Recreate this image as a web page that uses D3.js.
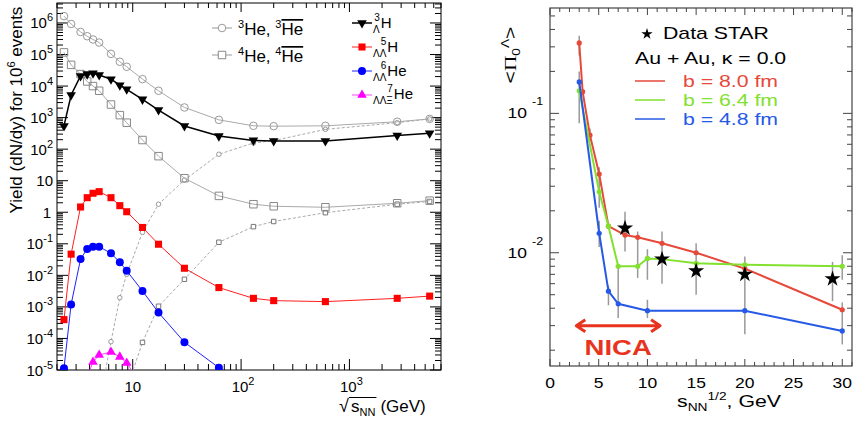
<!DOCTYPE html>
<html>
<head>
<meta charset="utf-8">
<script src="https://cdn.jsdelivr.net/npm/d3@7"></script>
<style>
body { margin: 0; background: #fff; }
svg { display: block; }
text { font-family: "Liberation Sans", Arial, sans-serif; fill: #000; }
</style>
</head>
<body>
<script>
// ---- left panel data: yields vs sqrt(s_NN) ----
var energies = [2.32, 2.7, 3.3, 3.8, 4.3, 4.9, 6.3, 7.6, 8.8, 12.3, 17.3, 30, 62.4, 130, 200, 600, 2760, 5500];
var he3 = [1.65e6, 9.3e5, 5.2e5, 3.8e5, 3.0e5, 2.4e5, 1.05e5, 5.9e4, 4.1e4, 1.66e4, 7.1e3, 2.1e3, 850, 550, 535, 550, 740, 910];
var he4 = [1.17e5, 4.7e4, 2.4e4, 1.4e4, 1.0e4, 7.1e3, 2.6e3, 1.2e3, 690, 195, 60, 12, 3.3, 1.8, 1.55, 1.44, 1.93, 2.33];
var antiHe3 = [null, null, null, null, null, 8e-7, 7.9e-5, 1.96e-3, 0.0108, 0.23, 1.8, 10.5, 69, 157, 186, 425, 690, 910];
var antiHe4 = [null, null, null, null, null, null, null, null, 2.5e-6, 7.5e-5, 1.05e-3, 7.5e-3, 0.112, 0.35, 0.51, 0.97, 1.8, 2.2];
var hyperH3 = [545, 5.2e3, 2.1e4, 2.4e4, 2.55e4, 2.25e4, 1.65e4, 1.07e4, 7.9e3, 3.8e3, 1.74e3, 545, 260, 190, 182, 182, 270, 318];
var llH5 = [3.95e-4, 0.047, 1.47, 2.9, 4.0, 4.5, 2.9, 1.62, 1.04, 0.33, 0.097, 0.0168, 4.1e-3, 1.87e-3, 1.58e-3, 1.47e-3, 1.87e-3, 2.2e-3];
var llHe6 = [1.14e-5, 1.2e-3, 0.033, 0.069, 0.081, 0.081, 0.050, 0.026, 0.014, 3.2e-3, 6.6e-4, 7.6e-5, 1.18e-5, 2.2e-6, null, null, null, null];
var llxHe7 = [null, null, null, 6e-6, 1.8e-5, 3.0e-5, 3.7e-5, 2.6e-5, 1.67e-5, 3.3e-6, null, null, null, null, null, null, null, null];

// ---- right panel data: <Pi_0^Lambda> vs sqrt(s_NN) ----
var redX = [3, 3.35, 4.1, 5.05, 6, 7.7, 9, 11.5, 15, 20, 30];
var redY = [0.32, 0.143, 0.0698, 0.0367, 0.0155, 0.0134, 0.0129, 0.0117, 0.0100, 0.0077, 0.0039];
var greenX = [3, 5.05, 6, 7, 9, 10, 11.5, 15, 20, 30];
var greenY = [0.145, 0.0274, 0.0155, 0.0080, 0.0080, 0.0091, 0.0090, 0.0084, 0.0082, 0.0080];
var blueX = [3, 5.05, 6, 7, 10, 20, 30];
var blueY = [0.168, 0.0138, 0.0053, 0.0043, 0.00384, 0.00384, 0.00275];
var starX = [7.7, 11.5, 15, 20, 29];
var starY = [0.0150, 0.0090, 0.0074, 0.0070, 0.0065];
var errX  = [3, 3, 4.1, 5.05, 5.05, 6, 7, 7.7, 9, 10, 10, 11.5, 15, 20, 29, 30, 30];
var errLo = [0.26, 0.085, 0.062, 0.021, 0.011, 0.0042, 0.0034, 0.0102, 0.0066, 0.0064, 0.0034, 0.0060, 0.0050, 0.0026, 0.0045, 0.0064, 0.0022];
var errHi = [0.36, 0.20, 0.078, 0.041, 0.017, 0.0058, 0.0080, 0.0197, 0.0142, 0.0106, 0.0046, 0.0142, 0.0117, 0.0094, 0.0086, 0.0096, 0.0044];
var nicaRange = [2.7, 11.3], nicaLevel = 0.0030;

var W = 856, H = 425;
var svg = d3.select('body').append('svg').attr('width', W).attr('height', H);

function logTicks(lo, hi) {
  var out = [];
  for (var d = Math.floor(Math.log10(lo)); d <= Math.ceil(Math.log10(hi)); d++) {
    for (var k = 1; k < 10; k++) {
      var v = k * Math.pow(10, d);
      if (v >= lo * 0.999 && v <= hi * 1.001) out.push({ v: v, major: k === 1 });
    }
  }
  return out;
}

// ================= left panel =================
var xL = d3.scaleLog().domain([2, 7000]).range([57, 441]);
var yL = d3.scaleLog().domain([1e-5, 4.3e6]).range([370, 3]);
var left = svg.append('g');

left.append('clipPath').attr('id', 'clipL').append('rect')
  .attr('x', 57).attr('y', 3).attr('width', 384).attr('height', 367);

left.append('rect').attr('x', 57).attr('y', 3).attr('width', 384).attr('height', 367)
  .attr('fill', 'none').attr('stroke', '#000').attr('stroke-width', 1);

logTicks(2, 7000).forEach(function(t) {
  var x = xL(t.v);
  left.append('line').attr('x1', x).attr('x2', x).attr('y1', 370).attr('y2', 370 - (t.major ? 11 : 6)).attr('stroke', '#000');
  left.append('line').attr('x1', x).attr('x2', x).attr('y1', 3).attr('y2', 3 + (t.major ? 9 : 5)).attr('stroke', '#000');
});
logTicks(1e-5, 4.3e6).forEach(function(t) {
  var y = yL(t.v);
  left.append('line').attr('x1', 57).attr('x2', 57 + (t.major ? 11 : 6)).attr('y1', y).attr('y2', y).attr('stroke', '#000');
  left.append('line').attr('x1', 441).attr('x2', 441 - (t.major ? 11 : 6)).attr('y1', y).attr('y2', y).attr('stroke', '#000');
});

// y tick labels
d3.range(-5, 7).forEach(function(d) {
  var t = left.append('text').attr('x', d === 0 ? 51 : 53).attr('y', yL(Math.pow(10, d)) + 5.5)
    .attr('text-anchor', 'end').style('font-size', '15px');
  if (d === 0) t.text('1');
  else if (d === 1) t.text('10');
  else {
    t.append('tspan').text('10');
    t.append('tspan').attr('dy', -7).style('font-size', '11px').text(d);
  }
});
// x tick labels
[10, 100, 1000].forEach(function(v, i) {
  var t = left.append('text').attr('x', xL(v) + (i ? 2 : 0)).attr('y', 392)
    .attr('text-anchor', 'middle').style('font-size', '15px');
  t.append('tspan').text('10');
  if (i) t.append('tspan').attr('dy', -7).style('font-size', '11px').text(i + 1);
});

// axis titles
var yt = left.append('text').attr('transform', 'translate(22,110) rotate(-90)')
  .attr('text-anchor', 'middle').style('font-size', '17px');
yt.append('tspan').text('Yield (dN/dy) for 10');
yt.append('tspan').attr('dy', -7).style('font-size', '11px').text('6');
yt.append('tspan').attr('dy', 7).text(' events');

left.append('text').attr('x', 339).attr('y', 412).style('font-size', '18px').text('\u221A');
var sNN = left.append('text').attr('x', 351).attr('y', 412).style('font-size', '17px');
sNN.append('tspan').text('s');
sNN.append('tspan').attr('dy', 4).style('font-size', '11px').text('NN');
var sb = sNN.node().getBBox();
left.append('line').attr('x1', 349).attr('x2', sb.x + sb.width + 1).attr('y1', 397.5).attr('y2', 397.5)
  .attr('stroke', '#000').attr('stroke-width', 1);
left.append('text').attr('x', sb.x + sb.width + 5).attr('y', 412).style('font-size', '17px').text('(GeV)');

// series
var plotL = left.append('g').attr('clip-path', 'url(#clipL)');

function drawSeries(vals, o) {
  var pts = energies.map(function(e, i) { return [e, vals[i]]; }).filter(function(p) { return p[1] != null; });
  plotL.append('path').datum(pts)
    .attr('fill', 'none').attr('stroke', o.line).attr('stroke-width', o.lw || 1)
    .attr('stroke-dasharray', o.dash || null)
    .attr('d', d3.line().x(function(p) { return xL(p[0]); }).y(function(p) { return yL(p[1]); }));
  plotL.selectAll(null).data(pts).enter().append('path')
    .attr('transform', function(p) { return 'translate(' + xL(p[0]) + ',' + yL(p[1]) + ')' + (o.flip ? ' rotate(180)' : ''); })
    .attr('d', d3.symbol(o.symbol).size(o.size))
    .attr('fill', o.fill).attr('stroke', o.stroke || 'none').attr('stroke-width', 1);
}

drawSeries(antiHe3, { line: '#aaa', dash: '3,2', symbol: d3.symbolCircle, size: 16, fill: '#fff', stroke: '#999' });
drawSeries(antiHe4, { line: '#aaa', dash: '3,2', symbol: d3.symbolSquare, size: 20, fill: '#fff', stroke: '#777' });
drawSeries(he4, { line: '#aaa', symbol: d3.symbolSquare, size: 56, fill: 'none', stroke: '#888' });
drawSeries(he3, { line: '#aaa', symbol: d3.symbolCircle, size: 45, fill: 'none', stroke: '#999' });
drawSeries(hyperH3, { line: '#000', lw: 1.5, symbol: d3.symbolTriangle, size: 40, fill: '#000', flip: true });
drawSeries(llH5, { line: '#ff2020', symbol: d3.symbolSquare, size: 50, fill: '#ff0000' });
drawSeries(llHe6, { line: '#2020ff', symbol: d3.symbolCircle, size: 50, fill: '#0000ff' });
drawSeries(llxHe7, { line: '#ff40ff', symbol: d3.symbolTriangle, size: 40, fill: '#ff00ff' });

// legends
function legendMark(x, y, o) {
  left.append('line').attr('x1', x - 10).attr('x2', x + 10).attr('y1', y).attr('y2', y)
    .attr('stroke', o.line).attr('stroke-width', o.lw || 1);
  left.append('path').attr('transform', 'translate(' + x + ',' + y + ')' + (o.flip ? ' rotate(180)' : ''))
    .attr('d', d3.symbol(o.symbol).size(o.size)).attr('fill', o.fill).attr('stroke', o.stroke || 'none');
}
legendMark(222, 28, { line: '#999', symbol: d3.symbolCircle, size: 45, fill: '#fff', stroke: '#999' });
legendMark(222, 55, { line: '#999', symbol: d3.symbolSquare, size: 56, fill: '#fff', stroke: '#888' });
[[35, '3'], [62, '4']].forEach(function(r) {
  var t = left.append('text').attr('x', 238).attr('y', r[0]).style('font-size', '17px');
  t.append('tspan').attr('dy', -7).style('font-size', '11px').text(r[1]);
  t.append('tspan').attr('dy', 7).text('He, ');
  t.append('tspan').attr('dy', -7).style('font-size', '11px').text(r[1]);
  t.append('tspan').attr('dy', 7).style('text-decoration', 'overline').text('He');
});

function nuclide(y, mass, sub, name) {
  var s = left.append('text').attr('x', 373).attr('y', y + 5).style('font-size', '10px').text(sub);
  var sw = s.node().getComputedTextLength();
  left.append('text').attr('x', 373 + sw).attr('y', y - 7).attr('text-anchor', 'end').style('font-size', '10px').text(mass);
  left.append('text').attr('x', 374 + sw).attr('y', y).style('font-size', '15px').text(name);
}
legendMark(362, 23, { line: '#000', lw: 1.5, symbol: d3.symbolTriangle, size: 40, fill: '#000', flip: true });
legendMark(362, 47, { line: '#ff2020', symbol: d3.symbolSquare, size: 50, fill: '#ff0000' });
legendMark(362, 71, { line: '#2020ff', symbol: d3.symbolCircle, size: 50, fill: '#0000ff' });
legendMark(362, 95, { line: '#ff40ff', symbol: d3.symbolTriangle, size: 40, fill: '#ff00ff' });
nuclide(28, '3', '\u039B', 'H');
nuclide(52, '5', '\u039B\u039B', 'H');
nuclide(76, '6', '\u039B\u039B', 'He');
nuclide(99, '7', '\u039B\u039B\u039E', 'He');

// ================= right panel =================
var xR = d3.scaleLinear().domain([0, 31]).range([550, 852]);
var yR = d3.scaleLog().domain([0.00154, 0.57]).range([366, 8]);
var right = svg.append('g');
var SX = 1.25; // the original panel is stretched horizontally

function rtext(x, y, size, anchor) {
  return right.append('text').attr('transform', 'translate(' + x + ',' + y + ') scale(' + SX + ',1)')
    .attr('text-anchor', anchor || 'start').style('font-size', size + 'px');
}

right.append('rect').attr('x', 550).attr('y', 8).attr('width', 302).attr('height', 358)
  .attr('fill', 'none').attr('stroke', '#444').attr('stroke-width', 1.2);

d3.range(0, 32).forEach(function(v) {
  var x = xR(v), len = v % 5 === 0 ? 7 : 4;
  right.append('line').attr('x1', x).attr('x2', x).attr('y1', 366).attr('y2', 366 - len).attr('stroke', '#444');
  right.append('line').attr('x1', x).attr('x2', x).attr('y1', 8).attr('y2', 8 + len).attr('stroke', '#444');
});
logTicks(0.00154, 0.57).forEach(function(t) {
  var y = yR(t.v), len = t.major ? 9 : 5;
  right.append('line').attr('x1', 550).attr('x2', 550 + len).attr('y1', y).attr('y2', y).attr('stroke', '#444');
  right.append('line').attr('x1', 852).attr('x2', 852 - len).attr('y1', y).attr('y2', y).attr('stroke', '#444');
});

d3.range(0, 31, 5).forEach(function(v) {
  rtext(xR(v), 388, 14, 'middle').text(v);
});
[-1, -2].forEach(function(d) {
  var y = yR(Math.pow(10, d));
  rtext(527, y + 5, 14, 'end').text('10');
  rtext(532, y - 8, 10).text(d);
});

var xtR = rtext(677, 407, 17);
xtR.append('tspan').text('s');
xtR.append('tspan').attr('dy', 4).style('font-size', '11px').text('NN');
xtR.append('tspan').attr('dy', -11).style('font-size', '11px').text('1/2');
xtR.append('tspan').attr('dy', 7).text(', GeV');

var ytR = right.append('text').attr('transform', 'translate(516,55) rotate(-90) scale(' + SX + ',1)')
  .attr('text-anchor', 'middle').style('font-size', '17px');
ytR.append('tspan').text('<');
ytR.append('tspan').style('font-family', '"Liberation Serif", serif').text('\u03A0');
ytR.append('tspan').attr('dy', 4).style('font-size', '11px').text('0');
ytR.append('tspan').attr('dy', -11).style('font-size', '11px').text('\u039B');
ytR.append('tspan').attr('dy', 7).text('>');

// error bars
right.selectAll(null).data(errX).enter().append('line')
  .attr('x1', function(d) { return xR(d); }).attr('x2', function(d) { return xR(d); })
  .attr('y1', function(d, i) { return yR(errLo[i]); }).attr('y2', function(d, i) { return yR(errHi[i]); })
  .attr('stroke', '#999').attr('stroke-width', 1.5);

function modelLine(xs, ys, color) {
  var pts = xs.map(function(x, i) { return [x, ys[i]]; });
  right.append('path').datum(pts).attr('fill', 'none').attr('stroke', color).attr('stroke-width', 2)
    .attr('d', d3.line().x(function(p) { return xR(p[0]); }).y(function(p) { return yR(p[1]); }));
  right.selectAll(null).data(pts).enter().append('circle')
    .attr('cx', function(p) { return xR(p[0]); }).attr('cy', function(p) { return yR(p[1]); })
    .attr('r', 2.6).attr('fill', color);
}
modelLine(redX, redY, '#e6483a');
modelLine(greenX, greenY, '#82e02e');
modelLine(blueX, blueY, '#2659e6');

right.selectAll(null).data(starX).enter().append('path')
  .attr('transform', function(d, i) { return 'translate(' + xR(d) + ',' + yR(starY[i]) + ')'; })
  .attr('d', d3.symbol(d3.symbolStar).size(80)).attr('fill', '#000');

// NICA arrow
var ny = yR(nicaLevel), nx1 = xR(nicaRange[0]), nx2 = xR(nicaRange[1]);
right.append('path')
  .attr('d', 'M' + nx1 + ',' + ny + 'L' + nx2 + ',' + ny +
    'M' + (nx1 + 9) + ',' + (ny - 6) + 'L' + nx1 + ',' + ny + 'L' + (nx1 + 9) + ',' + (ny + 6) +
    'M' + (nx2 - 9) + ',' + (ny - 6) + 'L' + nx2 + ',' + ny + 'L' + (nx2 - 9) + ',' + (ny + 6))
  .attr('fill', 'none').attr('stroke', '#e8341e').attr('stroke-width', 3).attr('stroke-linejoin', 'round');
rtext((nx1 + nx2) / 2, ny + 29, 22, 'middle').style('font-weight', 'bold').style('fill', '#e8341e').text('NICA');

// right legend
right.append('path').attr('transform', 'translate(647,34)').attr('d', d3.symbol(d3.symbolStar).size(40)).attr('fill', '#000');
rtext(663, 39, 17).text('Data STAR');
rtext(635, 64, 17).text('Au + Au, \u03BA = 0.0');
[['#e6483a', 'b = 8.0 fm', 81], ['#82e02e', 'b = 6.4 fm', 100], ['#2659e6', 'b = 4.8 fm', 119]].forEach(function(r) {
  right.append('line').attr('x1', 635).attr('x2', 665).attr('y1', r[2]).attr('y2', r[2]).attr('stroke', r[0]).attr('stroke-width', 1.5);
  rtext(683, r[2] + 6, 17).style('fill', r[0]).text(r[1]);
});
</script>
</body>
</html>
